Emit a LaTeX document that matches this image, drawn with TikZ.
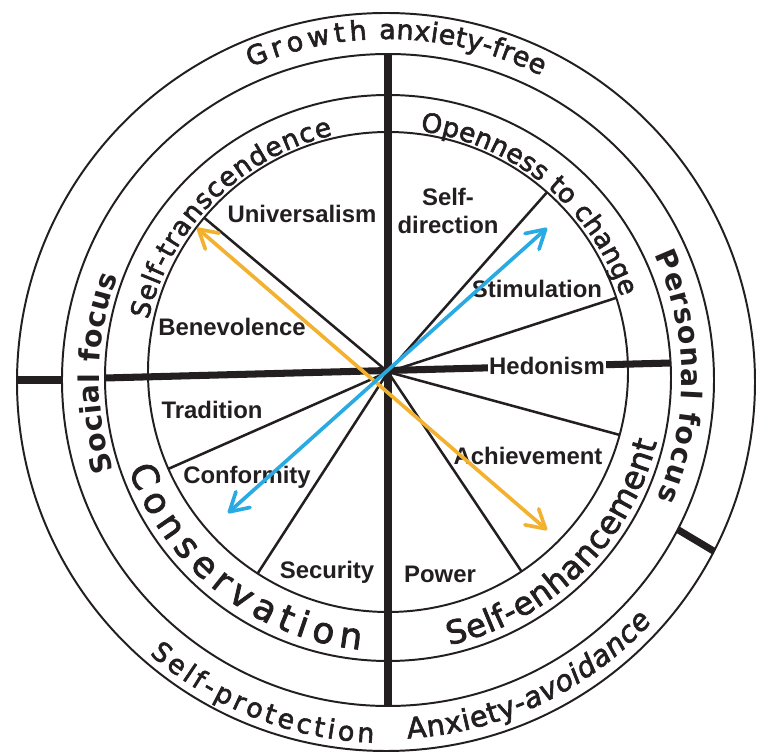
\documentclass[tikz,border=0pt]{standalone}
\usepackage{fontspec}
\setmainfont{Liberation Sans}
\newfontfamily\ringfont{DejaVu Sans}[FakeBold=2.2]
\newfontfamily\focusfamily{DejaVu Sans Bold}
\usetikzlibrary{decorations.text,arrows.meta}
\definecolor{inkgray}{RGB}{35,31,32}
\definecolor{valueblue}{RGB}{41,170,226}
\definecolor{valueorange}{RGB}{243,177,48}
\newcommand\higherfont{\ringfont\fontsize{18.8}{20}\selectfont}
\newcommand\conservfont{\ringfont\fontsize{25.5}{27}\selectfont}
\newcommand\enhancefont{\ringfont\fontsize{23}{25}\selectfont}
\newcommand\focusfont{\focusfamily\fontsize{20.2}{22}\selectfont}
\newcommand\growthfont{\ringfont\fontsize{19.2}{21}\selectfont}
\newcommand\protectfont{\ringfont\fontsize{19}{21}\selectfont}
\newcommand\avoidfont{\ringfont\fontsize{20.5}{22}\selectfont}

\begin{document}
\begin{tikzpicture}[x=0.025cm, y=0.025cm,
    ring/.style={draw=inkgray, line width=1.4pt},
    spoke/.style={draw=inkgray, line width=1.8pt},
    axisline/.style={draw=inkgray, line width=5pt},
    valuelabel/.style={font=\bfseries\fontsize{17}{20.5}\selectfont, text=inkgray, inner sep=1pt, align=center},
    arctext/.style={decorate, decoration={text along path, text align={fit to path}, text color=inkgray}},
    valuearrow/.style={{Straight Barb[length=13pt,width=15pt,round]}-{Straight Barb[length=13pt,width=15pt,round]}, line width=2.6pt, line cap=round}
  ]
  \useasboundingbox (-388,-383) rectangle (375,372);

  % circles
  \draw[ring] (0,0) circle[radius=240];
  \draw[ring] (0,-6) circle[radius=283];
  \draw[ring] (0,-8) circle[radius=326];
  \draw[ring] (-2,-10) circle[radius=369];

  % main axes and ticks
  \coordinate (top) at (0,318);
  \coordinate (bottom) at (0,-334);
  \coordinate (west) at (-283,-6);
  \coordinate (east) at (283,9);
  \draw[axisline] (top) -- (bottom);
  \draw[axisline] (west) -- (east);
  \draw[axisline] (-326,-8) -- (-371,-8);
  \draw[axisline] (289.6,-157.5) -- (325.9,-179.2);

  % value sectors
  \foreach \a in {48.5,18,-15.2,-56.2,237.1,203.8,140}
    \draw[spoke] (0,0) -- (\a:240);

  \node[valuelabel] (universalism) at (-86,158) {Universalism};
  \node[valuelabel] (selfdirection) at (60,161) {Self-\\direction};
  \node[valuelabel] (stimulation) at (149,83) {Stimulation};
  \node[valuelabel, fill=white] (hedonism) at (159,6) {Hedonism};
  \node[valuelabel] (achievement) at (140,-84) {Achievement};
  \node[valuelabel] (power) at (52,-202) {Power};
  \node[valuelabel] (security) at (-61,-200) {Security};
  \node[valuelabel] (conformity) at (-141,-105) {Conformity};
  \node[valuelabel] (tradition) at (-176,-38) {Tradition};
  \node[valuelabel] (benevolence) at (-156,45) {Benevolence};

  % higher order values
  \begin{scope}[shift={(0,-3)}]
    \path[arctext, decoration={text={|\higherfont|Self-transcendence}}]
      (167:246) arc[start angle=167, end angle=103, radius=246];
    \path[arctext, decoration={text={|\higherfont|Openness to change}}]
      (82.5:246) arc[start angle=82.5, end angle=18.5, radius=246];
    \path[arctext, decoration={text={|\conservfont|Conservation}}]
      (200:276) arc[start angle=200, end angle=264.3, radius=276];
    \path[arctext, decoration={text={|\enhancefont|Self-enhancement}}]
      (282.8:277) arc[start angle=282.8, end angle=346, radius=277];
  \end{scope}

  % focus
  \begin{scope}[shift={(0,-7)}]
    \path[arctext, decoration={text={|\focusfont|Social focus}}]
      (198.5:289) arc[start angle=198.5, end angle=159.3, radius=289];
    \path[arctext, decoration={text={|\focusfont|Personal focus}}]
      (25:294) arc[start angle=25, end angle=-24, radius=294];
  \end{scope}

  % anxiety
  \begin{scope}[shift={(-1,-9)}]
    \path[arctext, decoration={text={|\growthfont|Growth}}]
      (113.5:342) arc[start angle=113.5, end angle=93.3, radius=342];
    \path[arctext, decoration={text={|\growthfont|anxiety-free}}]
      (91.3:342) arc[start angle=91.3, end angle=63.2, radius=342];
    \path[arctext, decoration={text={|\protectfont|Self-protection}}]
      (229:362) arc[start angle=229, end angle=267.9, radius=362];
    \path[arctext, decoration={text={|\avoidfont|Anxiety-|\avoidfont\itshape|avoidance}}]
      (273.3:358) arc[start angle=273.3, end angle=317.8, radius=358];
  \end{scope}

  % arrows
  \coordinate (orangeA) at (-191,144);
  \coordinate (orangeB) at (159,-158);
  \coordinate (blueA) at (-160,-141);
  \coordinate (blueB) at (159,144);
  \draw[valuearrow, valueorange] (orangeA) -- (orangeB);
  \draw[valuearrow, valueblue] (blueA) -- (blueB);

\end{tikzpicture}
\end{document}
